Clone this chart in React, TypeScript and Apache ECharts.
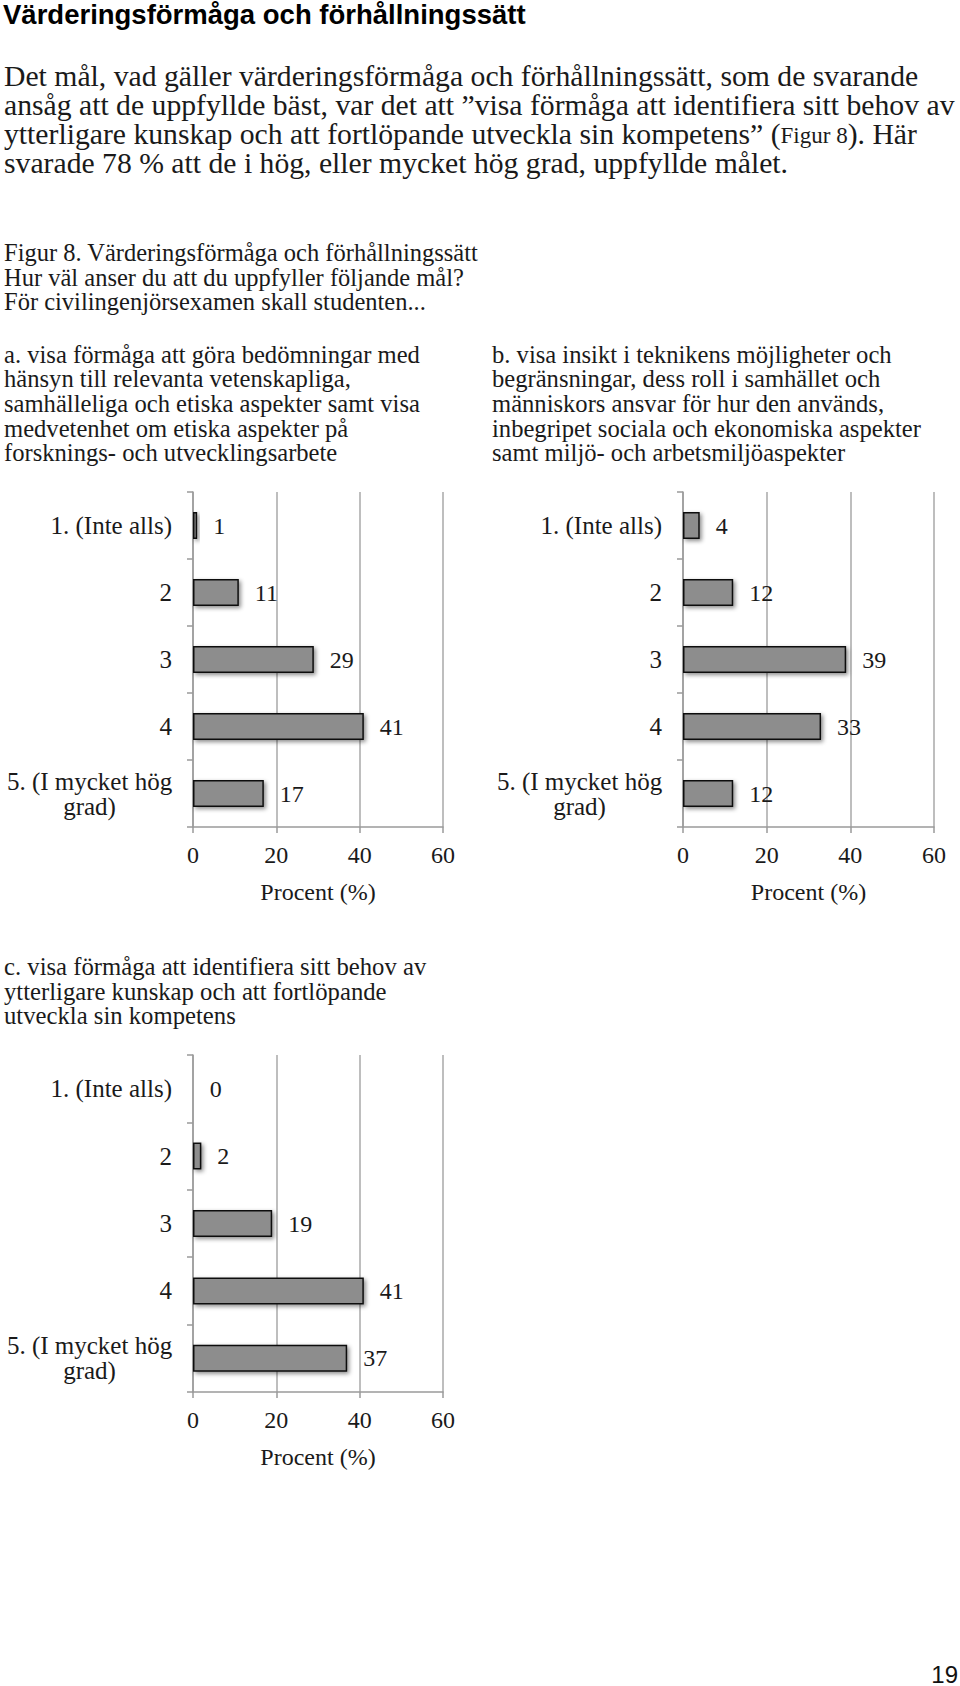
import React, { useEffect, useRef } from "react";
import * as echarts from "echarts";

const heading = "Värderingsförmåga och förhållningssätt";
const introLines = [
  "Det mål, vad gäller värderingsförmåga och förhållningssätt, som de svarande",
  "ansåg att de uppfyllde bäst, var det att ”visa förmåga att identifiera sitt behov av",
  "{n|ytterligare kunskap och att fortlöpande utveckla sin kompetens” (}{s|Figur 8}{n|). Här}",
  "svarade 78 % att de i hög, eller mycket hög grad, uppfyllde målet.",
];
const captionLines = [
  "Figur 8. Värderingsförmåga och förhållningssätt",
  "Hur väl anser du att du uppfyller följande mål?",
  "För civilingenjörsexamen skall studenten...",
];
const titleA = [
  "a. visa förmåga att göra bedömningar med",
  "hänsyn till relevanta vetenskapliga,",
  "samhälleliga och etiska aspekter samt visa",
  "medvetenhet om etiska aspekter på",
  "forsknings- och utvecklingsarbete",
];
const titleB = [
  "b. visa insikt i teknikens möjligheter och",
  "begränsningar, dess roll i samhället och",
  "människors ansvar för hur den används,",
  "inbegripet sociala och ekonomiska aspekter",
  "samt miljö- och arbetsmiljöaspekter",
];
const titleC = [
  "c. visa förmåga att identifiera sitt behov av",
  "ytterligare kunskap och att fortlöpande",
  "utveckla sin kompetens",
];
const categories = ["1. (Inte alls)", "2", "3", "4", "5. (I mycket hög\ngrad)"];
const valuesA = [1, 11, 29, 41, 17];
const valuesB = [4, 12, 39, 33, 12];
const valuesC = [0, 2, 19, 41, 37];
const xTicks = { min: 0, max: 60, interval: 20 };
const axisName = "Procent (%)";
const pageNumber = "19";

const SERIF = "'Liberation Serif', 'Times New Roman', serif";
const SANS = "'Liberation Sans', Arial, sans-serif";
const TXT = "#1a1a1a";

function lineTexts(lines: string[], x: number, y0: number, step: number, size: number, extra: any = {}) {
  return lines.map((t, i) => ({
    type: "text",
    x,
    y: y0 + i * step,
    silent: true,
    style: {
      text: t,
      fontSize: size,
      fontFamily: SERIF,
      fill: TXT,
      align: "left",
      verticalAlign: "middle",
      textAlign: "left",
      textVerticalAlign: "middle",
      ...extra,
    },
  }));
}

export default function App() {
  const ref = useRef<HTMLDivElement>(null);
  useEffect(() => {
    if (!ref.current) return;
    const chart = echarts.init(ref.current, undefined, { renderer: "svg" });
    const grids = [
      { left: 193, top: 492, width: 250, height: 335 },
      { left: 683, top: 492, width: 251, height: 335 },
      { left: 193, top: 1055, width: 250, height: 337 },
    ];
    const datasets = [valuesA, valuesB, valuesC];
    const xAxes = grids.map((_, i) => ({
      type: "value",
      gridIndex: i,
      min: xTicks.min,
      max: xTicks.max,
      interval: xTicks.interval,
      name: axisName,
      nameLocation: "middle",
      nameGap: 53,
      nameTextStyle: { fontSize: 24, fontFamily: SERIF, color: TXT },
      axisLine: { show: true, lineStyle: { color: "#9a9a9a", width: 1.5 } },
      axisTick: { show: true, length: 6, lineStyle: { color: "#9a9a9a", width: 1.5 } },
      splitLine: { show: true, lineStyle: { color: "#a8a8a8", width: 1.5 } },
      axisLabel: { fontSize: 24, fontFamily: SERIF, color: TXT, margin: 16 },
    }));
    const yAxes = grids.map((_, i) => ({
      type: "category",
      gridIndex: i,
      data: categories,
      inverse: true,
      axisLine: { show: true, lineStyle: { color: "#9a9a9a", width: 1.5 } },
      axisTick: { show: true, length: 6, lineStyle: { color: "#9a9a9a", width: 1.5 } },
      splitLine: { show: false },
      axisLabel: {
        fontSize: 25,
        fontFamily: SERIF,
        color: TXT,
        margin: 21,
        formatter: (v: string) => (v.indexOf("\n") >= 0 ? `{c|${v}}` : v),
        rich: {
          c: { width: 165, align: "center", fontSize: 25, lineHeight: 25, fontFamily: SERIF, color: TXT },
        },
      },
    }));
    const series = datasets.map((d, i) => ({
      type: "bar",
      xAxisIndex: i,
      yAxisIndex: i,
      data: d,
      barWidth: 27,
      itemStyle: {
        color: "#8d8d8d",
        borderColor: "#111",
        borderWidth: 1.5,
        shadowColor: "rgba(0,0,0,0.45)",
        shadowBlur: 4,
        shadowOffsetX: 2,
        shadowOffsetY: 2,
      },
      label: {
        show: true,
        position: "right",
        distance: 16,
        fontSize: 24,
        fontFamily: SERIF,
        color: TXT,
      },
    }));
    const graphic: any[] = [
      {
        type: "text",
        x: 3,
        y: 14,
        silent: true,
        style: {
          text: heading,
          fontSize: 27.5,
          fontWeight: "bold",
          fontFamily: SANS,
          fill: "#000",
          align: "left",
          verticalAlign: "middle",
          textAlign: "left",
          textVerticalAlign: "middle",
        },
      },
      ...lineTexts(introLines, 4, 76, 29, 29.7, {
        rich: {
          n: { fontSize: 29.7, fontFamily: SERIF, color: TXT },
          s: { fontSize: 23, fontFamily: SERIF, color: TXT, padding: [3, 0, 0, 0] },
        },
      }),
      ...lineTexts(captionLines, 4, 252.4, 24.7, 24.5),
      ...lineTexts(titleA, 4, 354, 24.7, 24.6),
      ...lineTexts(titleB, 492, 354, 24.7, 24.6),
      ...lineTexts(titleC, 4, 966.6, 24.5, 24.7),
      {
        type: "text",
        x: 958,
        y: 1674,
        silent: true,
        style: {
          text: pageNumber,
          fontSize: 24,
          fontFamily: SANS,
          fill: "#111",
          align: "right",
          verticalAlign: "middle",
          textAlign: "right",
          textVerticalAlign: "middle",
        },
      },
    ];
    chart.setOption({
      animation: false,
      backgroundColor: "#ffffff",
      grid: grids,
      xAxis: xAxes,
      yAxis: yAxes,
      series,
      graphic,
    });
    return () => chart.dispose();
  }, []);
  return (
    <div
      ref={ref}
      style={{ position: "absolute", left: 0, top: 0, width: 960, height: 1686, background: "#fff" }}
    />
  );
}
